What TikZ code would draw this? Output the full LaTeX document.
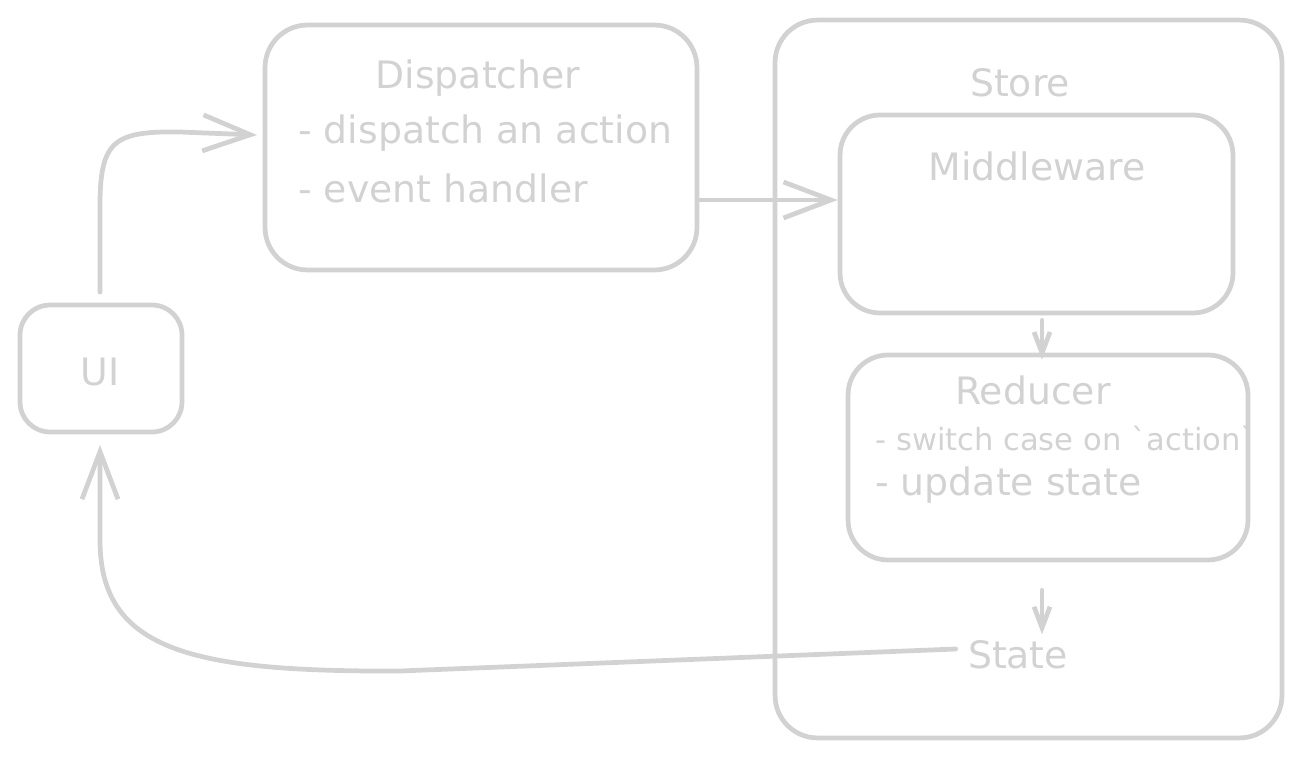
\documentclass[tikz,border=0pt]{standalone}
\usepackage{fontspec}
\setmainfont{DejaVu Sans}
\usepackage{tikz}
\usetikzlibrary{arrows.meta,positioning,calc}
\definecolor{sketchgray}{RGB}{210, 210, 210}

\begin{document}
\begin{tikzpicture}[
    x=0.02cm, y=-0.02cm,
    box/.style={draw=sketchgray, line width=2.7pt, rounded corners=0.85cm, inner sep=0pt},
    label/.style={text=sketchgray, inner sep=0pt, font=\fontsize{21.5}{24}\selectfont},
    small/.style={text=sketchgray, inner sep=0pt, font=\fontsize{17.4}{20}\selectfont},
    flow/.style={draw=sketchgray, line width=2.7pt, line cap=round, -{Straight Barb[length=0.95cm, width=0.72cm, line width=2.7pt]}},
    flowsmall/.style={draw=sketchgray, line width=2.7pt, line cap=round, -{Straight Barb[length=0.42cm, width=0.32cm, line width=2.7pt]}}
]
    \useasboundingbox (0,0) rectangle (1301,757);

    % Boxes
    \node[box, minimum width=3.24cm, minimum height=2.54cm, rounded corners=0.6cm] (ui) at (101, 368.5) {};
    \node[box, minimum width=8.64cm, minimum height=4.9cm] (dispatcher) at (481, 147.5) {};
    \node[box, minimum width=10.14cm, minimum height=14.36cm] (store) at (1028.5, 379) {};
    \node[box, minimum width=7.86cm, minimum height=3.96cm, rounded corners=0.8cm] (middleware) at (1036.5, 214) {};
    \node[box, minimum width=8cm, minimum height=4.1cm, rounded corners=0.8cm] (reducer) at (1048, 457.5) {};

    % Texts
    \node[label] (uitext) at (100, 372) {UI};
    \node[label] (disptitle) at (478, 78) {Dispatcher};
    \node[label, anchor=west] (dispone) at (298, 133) {- dispatch an action};
    \node[label, anchor=west] (disptwo) at (298, 188) {- event handler};
    \node[label] (storetitle) at (1020, 83) {Store};
    \node[label] (midtitle) at (1037, 166) {Middleware};
    \node[label] (redtitle) at (1033, 390) {Reducer};
    \node[small, anchor=west] (redone) at (875, 438) {- switch case on \textasciigrave action\textasciigrave};
    \node[label, anchor=west] (redtwo) at (875, 485) {- update state};
    \node[label] (state) at (1018, 655) {State};

    % Free ends
    \coordinate (uitop) at (100, 292);
    \coordinate (disphead) at (257, 135);
    \coordinate (uibottom) at (100, 445);

    % UI to Dispatcher
    \draw[flow] (uitop) -- (100, 205) .. controls (100, 140) and (115, 131) .. (180, 132) -- (disphead);

    % Dispatcher to Middleware
    \draw[flow] ([yshift=-1.05cm]dispatcher.east) -- ([yshift=-1.05cm]dispatcher.east -| middleware.west);

    % Middleware to Reducer
    \draw[flowsmall] ([xshift=0.11cm, yshift=-0.1cm]middleware.south) -- ([xshift=0.11cm, yshift=-0.14cm]middleware.south |- reducer.north);

    % Reducer to State
    \draw[flowsmall] ([xshift=-0.12cm, yshift=-0.56cm]reducer.south) -- ([xshift=-0.12cm, yshift=0.12cm]reducer.south |- state.north);

    % State back to UI
    \draw[flow] ([xshift=-0.24cm, yshift=0.12cm]state.west) -- (400, 671) .. controls (190, 672) and (100, 650) .. (100, 540) -- (uibottom);

\end{tikzpicture}
\end{document}
